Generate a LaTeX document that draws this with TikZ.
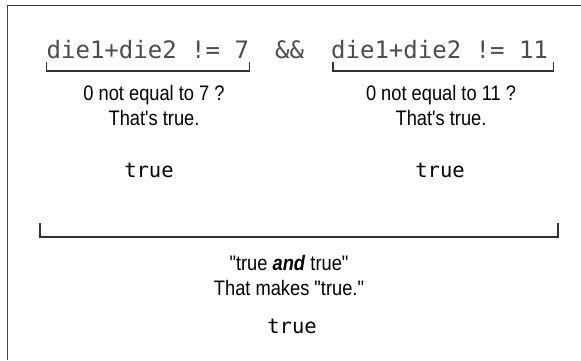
\documentclass[tikz,border=0pt]{standalone}
\usepackage{fontspec}
\newfontfamily\labelfont[FakeStretch=0.87,Ligatures=TeXOff]{Liberation Sans}
\newfontfamily\codefont{DejaVu Sans Mono}
\usetikzlibrary{positioning, calc}

\begin{document}
\begin{tikzpicture}[
  x=1pt, y=-1pt,
  code/.style={font=\codefont\fontsize{24}{28}\selectfont, text=black!70, inner sep=0pt, anchor=base west},
  note/.style={font=\labelfont\fontsize{21}{25}\selectfont, align=center, inner sep=0pt, anchor=base},
  result/.style={font=\codefont\fontsize{20.5}{24}\selectfont, inner sep=0pt, anchor=base},
  brk/.style={draw=black!80, line width=1.2pt},
  frame/.style={draw=black!75, line width=1.6pt}
]
\useasboundingbox (0,0) rectangle (581,360);

% open frame, top and left side only
\draw[frame] (581,5.5) -- (7.5,5.5) -- (7.5,360);

% the two conditions
\node[code] (expr1) at (46.5,58) {die1+die2 != 7};
\node[code] (andop) at (275,58) {\&\&};
\node[code] (expr2) at (331,58) {die1+die2 != 11};

\draw[brk] ($(expr1.base west)+(0,4)$) -- ++(0,9) -| ($(expr1.base east)+(0,4)$);
\draw[brk] ($(expr2.base west)+(2,4)$) -- ++(0,9) -| ($(expr2.base east)+(5,4)$);

% base is the last line here
\node[note] (note1) at (154,125) {0 not equal to 7 ?\\That's true.};
\node[note] (note2) at (441,125) {0 not equal to 11 ?\\That's true.};
\node[result] (res1) at (149,177) {true};
\node[result] (res2) at (440,177) {true};

% the whole expression
\coordinate (allL) at (40,223);
\coordinate (allR) at (558,223);
\draw[brk, line width=1.5pt] (allL) -- ++(0,14) -| (allR);

\node[note] (note3) at (289,295) {"true \textbf{\textit{and}} true"\\That makes "true."};
\node[result] (res3) at (292,333) {true};

\end{tikzpicture}
\end{document}
